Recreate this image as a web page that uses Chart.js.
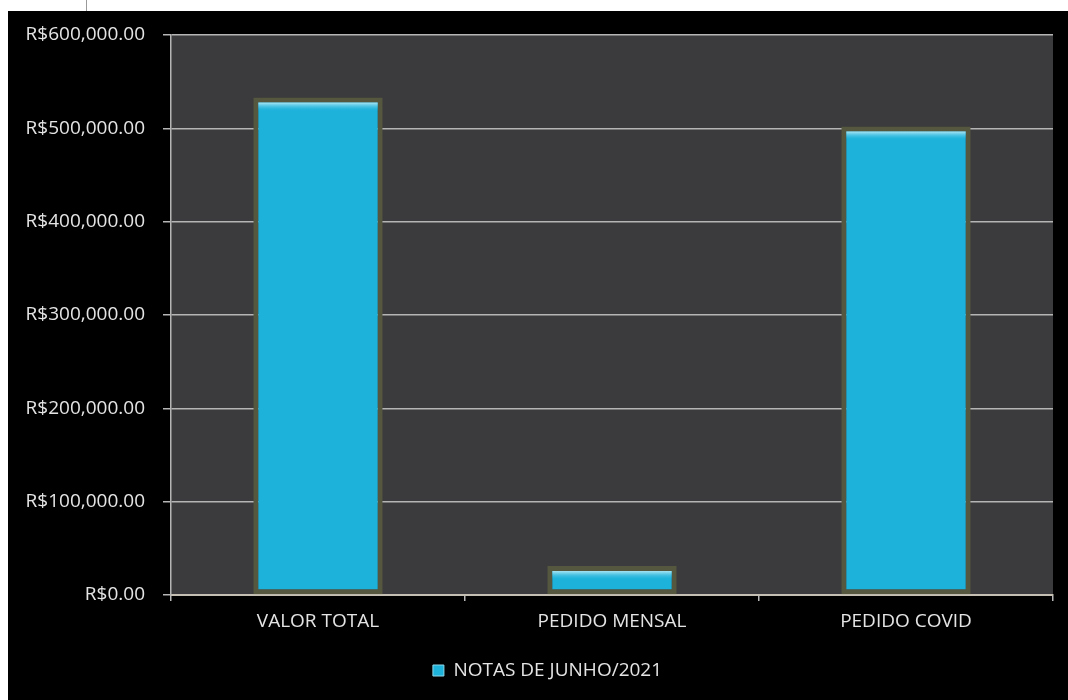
<!DOCTYPE html>
<html>
<head>
<meta charset="utf-8">
<script src="https://cdn.jsdelivr.net/npm/chart.js@4.4.1/dist/chart.umd.min.js"></script>
<style>
body{margin:0;background:#fff;width:1068px;height:700px;overflow:hidden;position:relative;}
#painel{position:absolute;left:8px;top:11px;width:1060px;height:689px;background:#000;}
#grafico{display:block;}
#risco{position:absolute;left:86px;top:0;width:1px;height:11px;background:#9a9a9a;}
</style>
</head>
<body>
<div id="risco"></div>
<div id="painel"><canvas id="grafico" width="1060" height="689"></canvas></div>
<script>
// dados
var categorias = ['VALOR TOTAL', 'PEDIDO MENSAL', 'PEDIDO COVID'];
var notasJunho = [533000, 31000, 502000];
var nomeSerie = 'NOTAS DE JUNHO/2021';
var eixoMin = 0;
var eixoMax = 600000;
var passo = 100000;

function formatarReal(v){
  return 'R$' + Number(v).toLocaleString('en-US', {minimumFractionDigits: 2, maximumFractionDigits: 2});
}

// fundo cinza da area do grafico
var fundoArea = {
  id: 'fundoArea',
  beforeDraw: function(chart){
    var a = chart.chartArea;
    var ctx = chart.ctx;
    ctx.save();
    ctx.fillStyle = '#3b3a3d';
    ctx.fillRect(a.left, a.top, a.right - a.left, a.bottom - a.top);
    ctx.restore();
  }
};

// legenda um pouco deslocada para a direita, como no original
var moverLegenda = {
  id: 'moverLegenda',
  afterLayout: function(chart){
    if (chart.legend) {
      chart.legend.left += 17;
      chart.legend.right += 17;
    }
  }
};

// brilho no topo das barras
var brilho = {
  id: 'brilho',
  afterDatasetsDraw: function(chart){
    var ctx = chart.ctx;
    var meta = chart.getDatasetMeta(0);
    ctx.save();
    meta.data.forEach(function(bar){
      var p = bar.getProps(['x', 'y', 'width'], true);
      var l = p.x - p.width/2 + 5, r = p.x + p.width/2 - 5, t = p.y + 5;
      var g = ctx.createLinearGradient(0, t, 0, t + 9);
      g.addColorStop(0, 'rgba(200,240,250,0.85)');
      g.addColorStop(1, 'rgba(28,178,218,0)');
      ctx.fillStyle = g;
      ctx.fillRect(l, t, r - l, 9);
    });
    ctx.restore();
  }
};

var ctx = document.getElementById('grafico').getContext('2d');
var grafico = new Chart(ctx, {
  type: 'bar',
  data: {
    labels: categorias,
    datasets: [{
      label: nomeSerie,
      data: notasJunho,
      backgroundColor: '#1cb2da',
      borderColor: '#55573f',
      borderWidth: 5,
      borderSkipped: false,
      categoryPercentage: 1,
      barPercentage: 0.44
    }]
  },
  options: {
    responsive: false,
    animation: false,
    events: [],
    layout: {padding: {top: 24, right: 15, bottom: 10, left: 0}},
    plugins: {
      tooltip: {enabled: false},
      legend: {
        position: 'bottom',
        labels: {
          color: '#e4e4e4',
          font: {family: 'Open Sans', size: 19},
          boxWidth: 11,
          boxHeight: 11,
          padding: 10,
          generateLabels: function(chart){
            return [{
              text: nomeSerie,
              fillStyle: '#1cb2da',
              strokeStyle: '#8fd8ea',
              lineWidth: 1,
              fontColor: '#e4e4e4',
              datasetIndex: 0
            }];
          }
        }
      }
    },
    scales: {
      x: {
        offset: true,
        afterFit: function(s){ s.height = 56; s.paddingLeft = 0; s.paddingRight = 0; },
        grid: {
          display: true,
          offset: true,
          drawOnChartArea: false,
          drawTicks: true,
          tickLength: 6,
          color: '#b9b9b9',
          lineWidth: 1.5
        },
        border: {display: true, color: '#c4bfb2', width: 2},
        ticks: {
          color: '#e4e4e4',
          font: {family: 'Open Sans', size: 19},
          padding: 9
        }
      },
      y: {
        min: eixoMin,
        max: eixoMax,
        afterFit: function(s){ s.width = 163; s.paddingTop = 0; s.paddingBottom = 0; },
        grid: {
          color: '#b5b5b5',
          lineWidth: 1.5,
          drawTicks: true,
          tickLength: 8
        },
        border: {display: true, color: '#b5b5b5', width: 1.5},
        ticks: {
          stepSize: passo,
          color: '#e4e4e4',
          font: {family: 'Open Sans', size: 19},
          padding: 18,
          callback: function(v){ return formatarReal(v); }
        }
      }
    }
  },
  plugins: [fundoArea, moverLegenda, brilho]
});
</script>
</body>
</html>
